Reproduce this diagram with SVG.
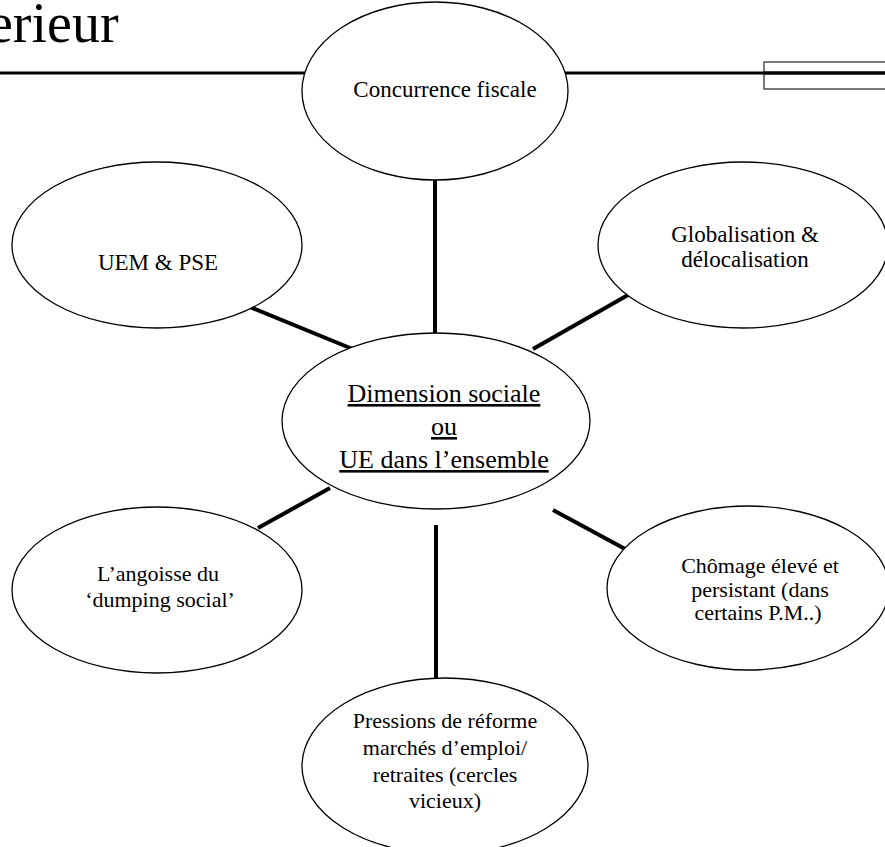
<svg xmlns="http://www.w3.org/2000/svg" width="885" height="847" viewBox="0 0 885 847">
<style>
.n{fill:#fff;stroke:#000;stroke-width:1.3}
.t{font-family:"Liberation Serif","Times New Roman",serif;font-size:22px;fill:#000;text-anchor:middle}
.c{stroke:#000;stroke-width:4;fill:none}
</style>
<rect width="885" height="847" fill="#fff"/>
<text x="-12" y="42" style="font-family:'Liberation Serif','Times New Roman',serif;font-size:56px">erieur</text>
<line x1="0" y1="73" x2="885" y2="73" stroke="#000" stroke-width="3"/>
<rect x="764" y="62" width="130" height="27" fill="none" stroke="#222" stroke-width="1.2"/>
<line x1="764" y1="73" x2="885" y2="73" stroke="#000" stroke-width="3"/>
<g id="connectors">
<line class="c" x1="435" y1="180" x2="435" y2="334"/>
<line class="c" x1="245" y1="305" x2="355" y2="350"/>
<line class="c" x1="533" y1="349" x2="628" y2="295"/>
<line class="c" x1="258" y1="528" x2="330" y2="488"/>
<line class="c" x1="553" y1="510" x2="627" y2="550"/>
<line class="c" x1="436" y1="525" x2="436" y2="680"/>
</g>
<g id="concurrence">
<ellipse class="n" cx="435" cy="91" rx="133" ry="89"/>
<text class="t" x="445" y="97" style="font-size:23px">Concurrence fiscale</text>
</g>
<g id="uem">
<ellipse class="n" cx="157" cy="245" rx="145" ry="83"/>
<text class="t" x="158" y="270" style="font-size:23px">UEM &amp; PSE</text>
</g>
<g id="globalisation">
<ellipse class="n" cx="743" cy="245" rx="145" ry="83"/>
<text class="t" x="745" y="242" style="font-size:23px">Globalisation &amp;</text>
<text class="t" x="745" y="267" style="font-size:23px">délocalisation</text>
</g>
<g id="centre">
<ellipse class="n" cx="436" cy="421" rx="154" ry="88"/>
<text class="t" x="444" y="402" style="font-size:26px;text-decoration:underline">Dimension sociale</text>
<text class="t" x="444" y="435" style="font-size:26px;text-decoration:underline">ou</text>
<text class="t" x="444" y="468" style="font-size:26px;text-decoration:underline">UE dans l’ensemble</text>
</g>
<g id="angoisse">
<ellipse class="n" cx="157" cy="590" rx="145" ry="83"/>
<text class="t" x="158" y="581">L’angoisse du</text>
<text class="t" x="160" y="607">‘dumping social’</text>
</g>
<g id="chomage">
<ellipse class="n" cx="748" cy="588" rx="141" ry="82"/>
<text class="t" x="760" y="573">Chômage élevé et</text>
<text class="t" x="760" y="597">persistant (dans</text>
<text class="t" x="758" y="620">certains P.M..)</text>
</g>
<g id="pressions">
<ellipse class="n" cx="445" cy="766" rx="143" ry="88"/>
<text class="t" x="445" y="728">Pressions de réforme</text>
<text class="t" x="445" y="755">marchés d’emploi/</text>
<text class="t" x="445" y="782">retraites (cercles</text>
<text class="t" x="445" y="808">vicieux)</text>
</g>
</svg>
